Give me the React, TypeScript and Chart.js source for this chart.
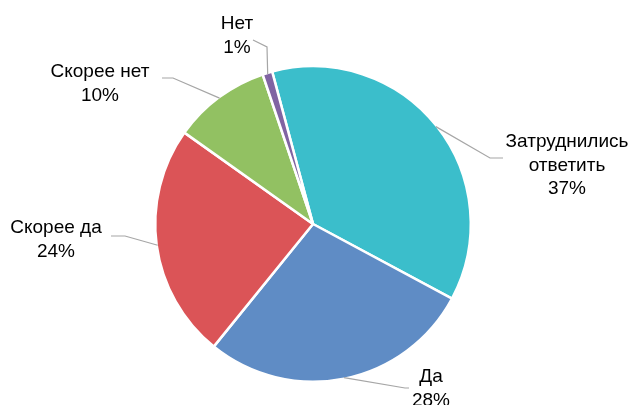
import React, { useEffect, useRef } from "react";
import { Chart, registerables } from "chart.js";

Chart.register(...registerables);

const categories = ["Затруднились ответить", "Да", "Скорее да", "Скорее нет", "Нет"];
const values = [37, 28, 24, 10, 1];
const percentLabels = ["37%", "28%", "24%", "10%", "1%"];
const labelLines = [["Затруднились", "ответить"], ["Да"], ["Скорее да"], ["Скорее нет"], ["Нет"]];
const colors = ["#3BBECB", "#5F8CC5", "#DB5457", "#92C162", "#8064A2"];

// label layout: text centre x, first line y, elbow point, line end point
const labelLayout = [
  { x: 567, y: 142, elbow: [490, 158], end: [503, 158] },
  { x: 431, y: 377, elbow: [405, 388], end: [409, 388] },
  { x: 56, y: 228, elbow: [125, 236], end: [111, 236] },
  { x: 100, y: 72, elbow: [173, 78], end: [162, 78] },
  { x: 237, y: 24, elbow: [267, 47], end: [253, 40] },
];

const labelPlugin = {
  id: "outerLabels",
  afterDatasetsDraw(chart: any) {
    const ctx = chart.ctx;
    const meta = chart.getDatasetMeta(0);
    ctx.save();
    meta.data.forEach((arc: any, i: number) => {
      const p = arc.getProps(["x", "y", "startAngle", "endAngle", "outerRadius"], true);
      const mid = (p.startAngle + p.endAngle) / 2;
      const ax = p.x + Math.cos(mid) * (p.outerRadius - 1);
      const ay = p.y + Math.sin(mid) * (p.outerRadius - 1);
      const L = labelLayout[i];
      ctx.strokeStyle = "#A6A6A6";
      ctx.lineWidth = 1.2;
      ctx.beginPath();
      ctx.moveTo(ax, ay);
      ctx.lineTo(L.elbow[0], L.elbow[1]);
      ctx.lineTo(L.end[0], L.end[1]);
      ctx.stroke();
      ctx.fillStyle = "#000000";
      ctx.font = "19px 'Liberation Sans', Arial, sans-serif";
      ctx.textAlign = "center";
      ctx.textBaseline = "middle";
      const lines = [...labelLines[i], percentLabels[i]];
      lines.forEach((t, k) => {
        ctx.fillText(t, L.x, L.y + k * 23.5);
      });
    });
    ctx.restore();
  },
};

export default function App() {
  const ref = useRef<HTMLCanvasElement>(null);
  useEffect(() => {
    const chart = new Chart(ref.current!, {
      type: "pie",
      data: {
        labels: categories,
        datasets: [
          {
            data: values,
            backgroundColor: colors,
            borderColor: "#FFFFFF",
            borderWidth: 2.5,
          },
        ],
      },
      options: {
        animation: false,
        responsive: false,
        rotation: -15,
        layout: { padding: { top: 65, bottom: 22, left: 154, right: 159 } },
        plugins: { legend: { display: false }, tooltip: { enabled: false } },
      },
      plugins: [labelPlugin],
    });
    return () => chart.destroy();
  }, []);
  return (
    <div style={{ position: "fixed", left: 0, top: 0, width: 631, height: 405, background: "#fff" }}>
      <canvas ref={ref} width={631} height={405} style={{ width: 631, height: 405 }} />
    </div>
  );
}
